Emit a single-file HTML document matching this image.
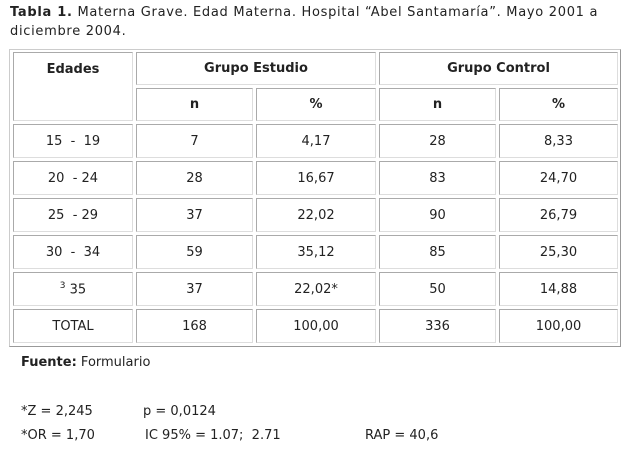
<!DOCTYPE html>
<html><head><meta charset="utf-8"><style>
body{margin:0;width:635px;height:467px;background:#fff;font-family:"DejaVu Sans",Verdana,sans-serif;font-size:13px;color:#222;position:relative;overflow:hidden}
.t{position:absolute;white-space:nowrap}
.outer{position:absolute;left:9px;top:49px;width:610px;height:296px;border:1px solid #ccc;border-right-color:#999;border-bottom-color:#999}
.c{position:absolute;box-sizing:border-box;border:1px solid #aaa;border-right-color:#ddd;border-bottom-color:#ddd;display:flex;align-items:center;justify-content:center}
.b{font-weight:bold}
</style></head><body>
<div class="t" style="left:10px;top:5px;letter-spacing:0.7px"><b>Tabla 1.</b> Materna Grave. Edad Materna. Hospital “Abel Santamaría”. Mayo 2001 a</div>
<div class="t" style="left:10px;top:24px;letter-spacing:0.7px">diciembre 2004.</div>
<div class="outer"></div>
<div class="c b" style="left:13px;top:52px;width:120px;height:69px;align-items:flex-start;padding-top:9px">Edades</div>
<div class="c b" style="left:136px;top:52px;width:240px;height:33px">Grupo Estudio</div>
<div class="c b" style="left:379px;top:52px;width:239px;height:33px">Grupo Control</div>
<div class="c b" style="left:136px;top:88px;width:117px;height:33px">n</div>
<div class="c b" style="left:256px;top:88px;width:120px;height:33px">%</div>
<div class="c b" style="left:379px;top:88px;width:117px;height:33px">n</div>
<div class="c b" style="left:499px;top:88px;width:119px;height:33px">%</div>

<div class="c" style="left:13px;top:124px;width:120px;height:34px">15 &nbsp;- &nbsp;19</div>
<div class="c" style="left:136px;top:124px;width:117px;height:34px">7</div>
<div class="c" style="left:256px;top:124px;width:120px;height:34px">4,17</div>
<div class="c" style="left:379px;top:124px;width:117px;height:34px">28</div>
<div class="c" style="left:499px;top:124px;width:119px;height:34px">8,33</div>

<div class="c" style="left:13px;top:161px;width:120px;height:34px">20 &nbsp;- 24</div>
<div class="c" style="left:136px;top:161px;width:117px;height:34px">28</div>
<div class="c" style="left:256px;top:161px;width:120px;height:34px">16,67</div>
<div class="c" style="left:379px;top:161px;width:117px;height:34px">83</div>
<div class="c" style="left:499px;top:161px;width:119px;height:34px">24,70</div>

<div class="c" style="left:13px;top:198px;width:120px;height:34px">25 &nbsp;- 29</div>
<div class="c" style="left:136px;top:198px;width:117px;height:34px">37</div>
<div class="c" style="left:256px;top:198px;width:120px;height:34px">22,02</div>
<div class="c" style="left:379px;top:198px;width:117px;height:34px">90</div>
<div class="c" style="left:499px;top:198px;width:119px;height:34px">26,79</div>

<div class="c" style="left:13px;top:235px;width:120px;height:34px">30 &nbsp;- &nbsp;34</div>
<div class="c" style="left:136px;top:235px;width:117px;height:34px">59</div>
<div class="c" style="left:256px;top:235px;width:120px;height:34px">35,12</div>
<div class="c" style="left:379px;top:235px;width:117px;height:34px">85</div>
<div class="c" style="left:499px;top:235px;width:119px;height:34px">25,30</div>

<div class="c" style="left:13px;top:272px;width:120px;height:34px"><span><sup style="font-size:9px">3</sup> 35</span></div>
<div class="c" style="left:136px;top:272px;width:117px;height:34px">37</div>
<div class="c" style="left:256px;top:272px;width:120px;height:34px">22,02*</div>
<div class="c" style="left:379px;top:272px;width:117px;height:34px">50</div>
<div class="c" style="left:499px;top:272px;width:119px;height:34px">14,88</div>

<div class="c" style="left:13px;top:309px;width:120px;height:34px">TOTAL</div>
<div class="c" style="left:136px;top:309px;width:117px;height:34px">168</div>
<div class="c" style="left:256px;top:309px;width:120px;height:34px">100,00</div>
<div class="c" style="left:379px;top:309px;width:117px;height:34px">336</div>
<div class="c" style="left:499px;top:309px;width:119px;height:34px">100,00</div>

<div class="t" style="left:21px;top:355px"><b>Fuente:</b> Formulario</div>
<div class="t" style="left:21px;top:404px">*Z = 2,245</div>
<div class="t" style="left:143px;top:404px">p = 0,0124</div>
<div class="t" style="left:21px;top:428px">*OR = 1,70</div>
<div class="t" style="left:145px;top:428px">IC 95% = 1.07; &nbsp;2.71</div>
<div class="t" style="left:365px;top:428px">RAP = 40,6</div>
</body></html>
